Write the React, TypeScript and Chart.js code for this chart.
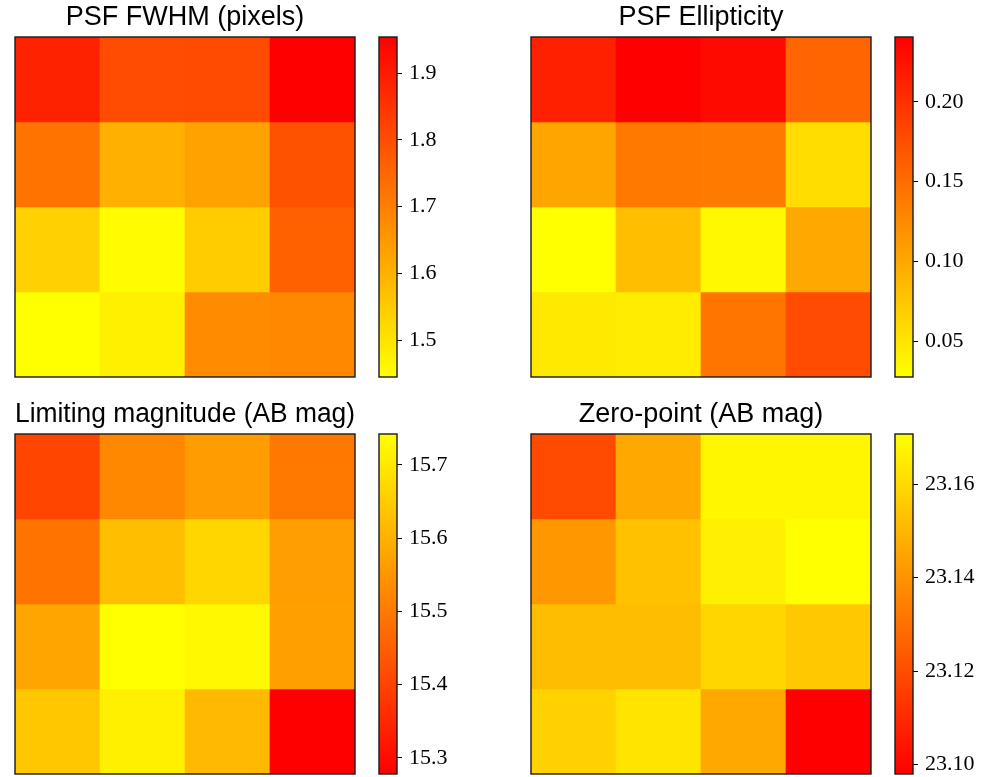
import React, { useEffect, useRef } from 'react';
import { Chart, registerables } from 'chart.js';

Chart.register(...registerables);

// ---- data (rows listed top to bottom, columns left to right) ----
const columns = ['1', '2', '3', '4'];

const fwhmTitle = 'PSF FWHM (pixels)';
const fwhm = [
  [1.886, 1.802, 1.805, 1.954],
  [1.722, 1.603, 1.631, 1.79],
  [1.535, 1.45, 1.547, 1.762],
  [1.445, 1.475, 1.675, 1.683],
];
const fwhmTicks = [1.5, 1.6, 1.7, 1.8, 1.9];
const fwhmTickLabels = ['1.5', '1.6', '1.7', '1.8', '1.9'];

const ellipTitle = 'PSF Ellipticity';
const ellipticity = [
  [0.214, 0.2406, 0.232, 0.156],
  [0.103, 0.14, 0.137, 0.056],
  [0.0275, 0.081, 0.033, 0.1],
  [0.046, 0.043, 0.143, 0.177],
];
const ellipTicks = [0.05, 0.1, 0.15, 0.2];
const ellipTickLabels = ['0.05', '0.10', '0.15', '0.20'];

const limTitle = 'Limiting magnitude (AB mag)';
const limitingMag = [
  [15.403, 15.525, 15.562, 15.496],
  [15.487, 15.626, 15.668, 15.566],
  [15.579, 15.742, 15.729, 15.57],
  [15.64, 15.714, 15.617, 15.278],
];
const limTicks = [15.3, 15.4, 15.5, 15.6, 15.7];
const limTickLabels = ['15.3', '15.4', '15.5', '15.6', '15.7'];

const zpTitle = 'Zero-point (AB mag)';
const zeroPoint = [
  [23.119, 23.146, 23.168, 23.168],
  [23.141, 23.153, 23.166, 23.1707],
  [23.152, 23.152, 23.159, 23.155],
  [23.158, 23.163, 23.146, 23.098],
];
const zpTicks = [23.1, 23.12, 23.14, 23.16];
const zpTickLabels = ['23.10', '23.12', '23.14', '23.16'];

// ---- layout constants ----
const BOX = 340;
const PADX = 15;
const CB_W = 18;
const CB_PADL = 3;
const AXW = 70;
const PADY = 22;

const frame = {
  id: 'frame',
  afterDatasetsDraw(chart: any) {
    const { ctx, chartArea: a } = chart;
    ctx.save();
    ctx.strokeStyle = '#1a1a1a';
    ctx.lineWidth = 1.4;
    ctx.strokeRect(a.left, a.top, a.right - a.left, a.bottom - a.top);
    ctx.restore();
  },
};

function cmap(t: number, reversed: boolean) {
  const g = reversed ? 1 - t : t;
  return `rgb(255,${Math.round(255 * Math.max(0, Math.min(1, g)))},0)`;
}

function range(values: number[][]) {
  const flat = values.flat();
  return [Math.min(...flat), Math.max(...flat)];
}

function Heatmap(props: { title: string; values: number[][]; reversed: boolean; left: number; top: number }) {
  const ref = useRef<HTMLCanvasElement>(null);
  const { title, values, reversed, left, top } = props;
  useEffect(() => {
    const [vmin, vmax] = range(values);
    const n = values.length;
    const datasets = values.map((row, r) => ({
      data: row.map(() => [n - r - 1, n - r]),
      backgroundColor: row.map((v) => cmap((v - vmin) / (vmax - vmin), reversed)),
      borderWidth: 0,
      barPercentage: 1,
      categoryPercentage: 1,
      grouped: false,
    }));
    const chart = new Chart(ref.current as HTMLCanvasElement, {
      type: 'bar',
      data: { labels: columns, datasets: datasets as any },
      options: {
        responsive: false,
        animation: false,
        layout: { padding: { left: PADX, right: PADX, top: 0, bottom: 3 } },
        plugins: {
          legend: { display: false },
          tooltip: { enabled: false },
          title: {
            display: true,
            text: title,
            color: '#000',
            font: { family: '"Liberation Sans", Arial, sans-serif', size: 27, weight: 'normal', lineHeight: 1.2 },
            padding: { top: 1.5, bottom: 3.1 },
          },
        },
        scales: {
          x: { display: false },
          y: { display: false, min: 0, max: n },
        },
      } as any,
      plugins: [frame],
    });
    return () => chart.destroy();
  }, []);
  return (
    <canvas
      ref={ref}
      width={BOX + 2 * PADX}
      height={37 + BOX + 3}
      style={{ position: 'absolute', left: left - PADX, top: top - 37, display: 'block' }}
    />
  );
}

function Colorbar(props: { values: number[][]; reversed: boolean; ticks: number[]; labels: string[]; left: number; top: number }) {
  const ref = useRef<HTMLCanvasElement>(null);
  const { values, reversed, ticks, labels, left, top } = props;
  useEffect(() => {
    const [vmin, vmax] = range(values);
    const chart = new Chart(ref.current as HTMLCanvasElement, {
      type: 'bar',
      data: {
        labels: ['cb'],
        datasets: [
          {
            data: [[vmin, vmax]] as any,
            backgroundColor: (c: any) => {
              const a = c.chart.chartArea;
              if (!a) return 'rgba(0,0,0,0)';
              const g = c.chart.ctx.createLinearGradient(0, a.bottom, 0, a.top);
              g.addColorStop(0, cmap(0, reversed));
              g.addColorStop(1, cmap(1, reversed));
              return g;
            },
            borderWidth: 0,
            barPercentage: 1,
            categoryPercentage: 1,
          },
        ],
      },
      options: {
        responsive: false,
        animation: false,
        layout: { padding: { left: CB_PADL, right: 0, top: PADY, bottom: PADY } },
        plugins: { legend: { display: false }, tooltip: { enabled: false } },
        scales: {
          x: { display: false },
          y: {
            position: 'right',
            min: vmin,
            max: vmax,
            bounds: 'data',
            afterBuildTicks: (s: any) => {
              s.ticks = ticks.map((v) => ({ value: v }));
            },
            afterFit: (s: any) => {
              s.width = AXW;
            },
            ticks: {
              callback: (v: any) => labels[ticks.findIndex((t) => Math.abs(t - v) < 1e-9)],
              color: '#000',
              font: { family: '"Liberation Serif", "Times New Roman", serif', size: 22 },
              padding: 7,
              autoSkip: false,
              maxRotation: 0,
            },
            grid: { drawOnChartArea: false, drawTicks: true, tickLength: 5, color: '#000', lineWidth: 1 },
            border: { display: false },
          },
        },
      } as any,
      plugins: [frame],
    });
    return () => chart.destroy();
  }, []);
  return (
    <canvas
      ref={ref}
      width={CB_PADL + CB_W + AXW}
      height={BOX + 2 * PADY}
      style={{ position: 'absolute', left: left - CB_PADL, top: top - PADY, display: 'block' }}
    />
  );
}

export default function App() {
  return (
    <div style={{ position: 'absolute', left: 0, top: 0, width: 982, height: 777, overflow: 'hidden', background: '#fff' }}>
      <Heatmap title={fwhmTitle} values={fwhm} reversed={true} left={15} top={37} />
      <Colorbar values={fwhm} reversed={true} ticks={fwhmTicks} labels={fwhmTickLabels} left={379} top={37} />
      <Heatmap title={ellipTitle} values={ellipticity} reversed={true} left={531} top={37} />
      <Colorbar values={ellipticity} reversed={true} ticks={ellipTicks} labels={ellipTickLabels} left={895} top={37} />
      <Heatmap title={limTitle} values={limitingMag} reversed={false} left={15} top={434} />
      <Colorbar values={limitingMag} reversed={false} ticks={limTicks} labels={limTickLabels} left={379} top={434} />
      <Heatmap title={zpTitle} values={zeroPoint} reversed={false} left={531} top={434} />
      <Colorbar values={zeroPoint} reversed={false} ticks={zpTicks} labels={zpTickLabels} left={895} top={434} />
    </div>
  );
}
